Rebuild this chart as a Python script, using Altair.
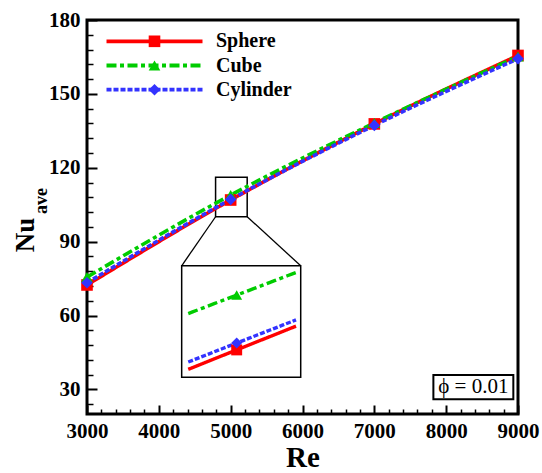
import altair as alt
import pandas as pd

# ---------------- data ----------------
re_values = [3000, 5000, 7000, 9000]
sphere_nu = [72.4, 106.9, 137.8, 165.6]
cube_nu = [75.6, 108.9, 138.2, 165.2]
cylinder_nu = [73.3, 107.15, 137.2, 164.3]

series_names = ["Sphere", "Cube", "Cylinder"]
series_colors = ["#ff0000", "#00cc00", "#3333ff"]
series_dashes = [[1, 0], [10, 3.5, 4, 3.5], [5, 2]]
series_shapes = ["square", "triangle-up", "diamond"]

x_major = [3000, 4000, 5000, 6000, 7000, 8000, 9000]
x_minor = [3200, 3400, 3600, 3800, 4200, 4400, 4600, 4800, 5200, 5400, 5600, 5800,
           6200, 6400, 6600, 6800, 7200, 7400, 7600, 7800, 8200, 8400, 8600, 8800]
y_major = [30, 60, 90, 120, 150, 180]
y_minor = [24, 36, 42, 48, 54, 66, 72, 78, 84, 96, 102, 108, 114, 126, 132, 138,
           144, 156, 162, 168, 174]

x_domain = [3000, 9000]
y_domain = [20, 180]

# zoom window (main coordinates) and inset frame (main coordinates)
zoom_re = [4790, 5230]
zoom_nu = [100.1, 116.1]
inset_frame_re = [4318, 5975]
inset_frame_nu = [34.9, 80.2]
# data window shown inside the inset
inset_re = [4950.7, 5057.4]
inset_nu = [105.9, 109.97]
inset_curve_extent = [4956.6, 5053.2]

phi_label = ["\u03d5 = 0.01"]
phi_re = [8378]
phi_nu = [30.9]
phi_box_re = [7822, 8935]
phi_box_nu = [26.0, 35.8]

x_title = "Re"
y_title_main = ["Nu"]
y_title_sub = ["ave"]

# ---------------- layout ----------------
W, H = 431, 394
FONT = "Liberation Serif"


def px_x(v):
    return (v - x_domain[0]) / (x_domain[1] - x_domain[0]) * W


def px_y(v):
    return (y_domain[1] - v) / (y_domain[1] - y_domain[0]) * H


rows = []
for name, vals in zip(series_names, [sphere_nu, cube_nu, cylinder_nu]):
    for r, v in zip(re_values, vals):
        rows.append({"Series": name, "Re": r, "Nu": v})
df = pd.DataFrame(rows)

xs = alt.Scale(domain=x_domain, nice=False, zero=False)
ys = alt.Scale(domain=y_domain, nice=False, zero=False)
xi = alt.Scale(domain=inset_re, range=[px_x(inset_frame_re[0]), px_x(inset_frame_re[1])],
               nice=False, zero=False)
yi = alt.Scale(domain=inset_nu, range=[px_y(inset_frame_nu[0]), px_y(inset_frame_nu[1])],
               nice=False, zero=False)

color_scale = alt.Scale(domain=series_names, range=series_colors)
dash_scale = alt.Scale(domain=series_names, range=series_dashes)
shape_scale = alt.Scale(domain=series_names, range=series_shapes)

LX, LY = 57.5, 11.3
LEG_FS = 20
line_legend = alt.Legend(orient="none", legendX=LX, legendY=LY, title=None, padding=0,
                         symbolType="M-8,0H8", symbolSize=144, symbolStrokeWidth=3.8,
                         symbolOffset=0, labelOffset=51.5, rowPadding=4.2,
                         labelFont=FONT, labelFontSize=LEG_FS, labelFontWeight="bold",
                         labelColor="black")
point_legend = alt.Legend(orient="none", legendX=LX, legendY=LY, title=None, padding=0,
                          symbolSize=135, symbolStrokeWidth=0, symbolOffset=0,
                          labelOffset=51.5, rowPadding=4.2, labelOpacity=0,
                          labelFont=FONT, labelFontSize=LEG_FS, labelFontWeight="bold")

base = alt.Chart(df)

lines = base.mark_line(strokeWidth=3.6, interpolate="monotone").encode(
    x=alt.X("Re:Q", scale=xs, axis=None),
    y=alt.Y("Nu:Q", scale=ys, axis=None),
    color=alt.Color("Series:N", scale=color_scale, legend=line_legend),
    strokeDash=alt.StrokeDash("Series:N", scale=dash_scale, legend=line_legend),
    detail="Series:N",
)

points = base.mark_point(filled=True, size=135, opacity=1).encode(
    x=alt.X("Re:Q", scale=xs, axis=None),
    y=alt.Y("Nu:Q", scale=ys, axis=None),
    color=alt.Color("Series:N", scale=color_scale, legend=point_legend),
    shape=alt.Shape("Series:N", scale=shape_scale, legend=point_legend),
)

zoom_df = pd.DataFrame({"x": [zoom_re[0]], "x2": [zoom_re[1]], "y": [zoom_nu[0]], "y2": [zoom_nu[1]]})
zoom_rect = alt.Chart(zoom_df).mark_rect(fill=None, stroke="black", strokeWidth=1.5).encode(
    x=alt.X("x:Q", scale=xs, axis=None), x2="x2:Q",
    y=alt.Y("y:Q", scale=ys, axis=None), y2="y2:Q",
)

conn_df = pd.DataFrame({
    "x": [zoom_re[0], zoom_re[1]],
    "y": [zoom_nu[0], zoom_nu[0]],
    "x2": [inset_frame_re[0], inset_frame_re[1]],
    "y2": [inset_frame_nu[1], inset_frame_nu[1]],
})
connectors = alt.Chart(conn_df).mark_rule(color="black", strokeWidth=1.3).encode(
    x=alt.X("x:Q", scale=xs, axis=None), x2="x2:Q",
    y=alt.Y("y:Q", scale=ys, axis=None), y2="y2:Q",
)

frame_df = pd.DataFrame({"x": [inset_frame_re[0]], "x2": [inset_frame_re[1]],
                         "y": [inset_frame_nu[0]], "y2": [inset_frame_nu[1]]})
inset_frame = alt.Chart(frame_df).mark_rect(fill="white", stroke="black", strokeWidth=1.5).encode(
    x=alt.X("x:Q", scale=xs, axis=None), x2="x2:Q",
    y=alt.Y("y:Q", scale=ys, axis=None), y2="y2:Q",
)

inset_lines = base.transform_regression(
    "Re", "Nu", groupby=["Series"], method="poly", order=3, extent=inset_curve_extent
).mark_line(strokeWidth=3.4).encode(
    x=alt.X("Re:Q", scale=xi, axis=None),
    y=alt.Y("Nu:Q", scale=yi, axis=None),
    color=alt.Color("Series:N", scale=color_scale, legend=None),
    strokeDash=alt.StrokeDash("Series:N", scale=dash_scale, legend=None),
)

inset_points = base.transform_filter(alt.datum.Re == 5000).mark_point(
    filled=True, size=120, opacity=1
).encode(
    x=alt.X("Re:Q", scale=xi, axis=None),
    y=alt.Y("Nu:Q", scale=yi, axis=None),
    color=alt.Color("Series:N", scale=color_scale, legend=None),
    shape=alt.Shape("Series:N", scale=shape_scale, legend=None),
)

phi_box_df = pd.DataFrame({"x": [phi_box_re[0]], "x2": [phi_box_re[1]],
                           "y": [phi_box_nu[0]], "y2": [phi_box_nu[1]]})
phi_box = alt.Chart(phi_box_df).mark_rect(fill="white", stroke="black", strokeWidth=2).encode(
    x=alt.X("x:Q", scale=xs, axis=None), x2="x2:Q",
    y=alt.Y("y:Q", scale=ys, axis=None), y2="y2:Q",
)
phi_text = alt.Chart(pd.DataFrame({"Re": phi_re, "Nu": phi_nu, "t": phi_label})).mark_text(
    font=FONT, fontSize=21, color="black", align="center", baseline="middle"
).encode(
    x=alt.X("Re:Q", scale=xs, axis=None),
    y=alt.Y("Nu:Q", scale=ys, axis=None),
    text="t:N",
)

# ---------------- axes ----------------
ax_df = pd.DataFrame({"Re": x_domain, "Nu": y_domain})
label_axes = alt.Chart(ax_df).mark_point(opacity=0).encode(
    x=alt.X("Re:Q", scale=xs, axis=alt.Axis(
        orient="bottom", values=x_major, format="d", ticks=False, domain=False, grid=False,
        labelFont=FONT, labelFontSize=21, labelFontWeight="bold", labelColor="black",
        labelPadding=6, labelFlush=False, labelOverlap=False,
        title=x_title, titleFont=FONT, titleFontSize=29, titleFontWeight="bold",
        titleColor="black", titlePadding=2)),
    y=alt.Y("Nu:Q", scale=ys, axis=alt.Axis(
        orient="left", values=y_major, format="d", ticks=False, domain=False, grid=False,
        labelFont=FONT, labelFontSize=21, labelFontWeight="bold", labelColor="black",
        labelPadding=7, labelFlush=False, labelOverlap=False, title=None)),
)
major_ticks = alt.Chart(ax_df).mark_point(opacity=0).encode(
    x=alt.X("Re:Q", scale=xs, axis=alt.Axis(
        orient="bottom", values=x_major, labels=False, domain=False, grid=False,
        tickSize=alt.ExprRef(expr="-9"), tickWidth=2, tickColor="black", title=None)),
    y=alt.Y("Nu:Q", scale=ys, axis=alt.Axis(
        orient="left", values=y_major, labels=False, domain=False, grid=False,
        tickSize=alt.ExprRef(expr="-10"), tickWidth=2, tickColor="black", title=None)),
)
minor_ticks = alt.Chart(ax_df).mark_point(opacity=0).encode(
    x=alt.X("Re:Q", scale=xs, axis=alt.Axis(
        orient="bottom", values=x_minor, labels=False, domain=False, grid=False,
        tickSize=alt.ExprRef(expr="-5"), tickWidth=1.5, tickColor="black", title=None)),
    y=alt.Y("Nu:Q", scale=ys, axis=alt.Axis(
        orient="left", values=y_minor, labels=False, domain=False, grid=False,
        tickSize=alt.ExprRef(expr="-6"), tickWidth=1.5, tickColor="black", title=None)),
)

y_title_a = alt.Chart(pd.DataFrame({"t": y_title_main})).mark_text(
    font=FONT, fontSize=27, fontWeight="bold", angle=270, align="center",
    baseline="middle", color="black"
).encode(x=alt.value(-61), y=alt.value(215), text="t:N")
y_title_b = alt.Chart(pd.DataFrame({"t": y_title_sub})).mark_text(
    font=FONT, fontSize=18, fontWeight="bold", angle=270, align="center",
    baseline="middle", color="black"
).encode(x=alt.value(-45), y=alt.value(181), text="t:N")

chart = alt.layer(
    minor_ticks, major_ticks, label_axes,
    inset_frame, connectors, zoom_rect,
    lines, points,
    inset_lines, inset_points,
    phi_box, phi_text,
    y_title_a, y_title_b,
).resolve_scale(
    x="independent", y="independent", color="independent",
    strokeDash="independent", shape="independent",
).properties(
    width=W, height=H,
    padding={"left": 87, "top": 20, "right": 24, "bottom": 59},
    autosize=alt.AutoSizeParams(type="none"),
    background="white",
).configure_view(stroke="black", strokeWidth=3)

chart.save("out.html", embed_options={"renderer": "svg", "actions": False})
